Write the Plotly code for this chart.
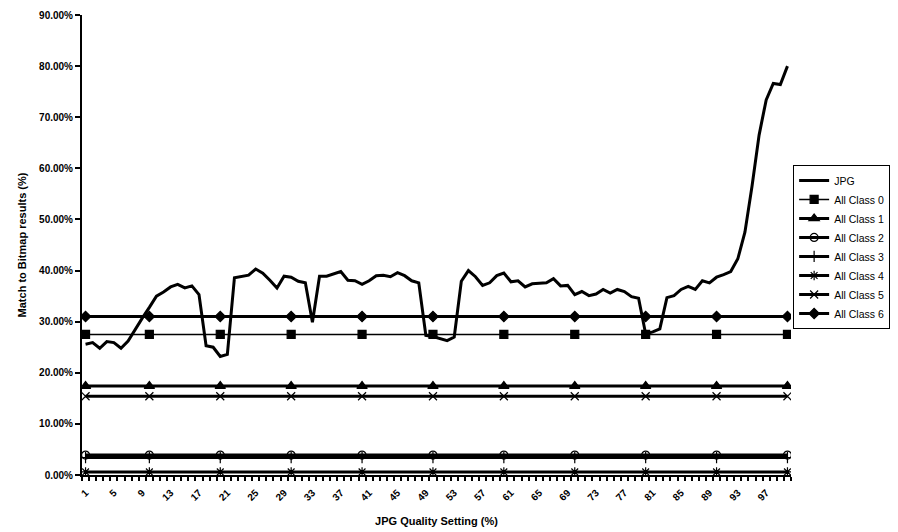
import plotly.graph_objects as go

quality = list(range(1, 101))
jpg = [25.6, 25.9, 24.8, 26.1, 25.9, 24.8, 26.2, 28.5, 30.7, 32.8,
       35.0, 35.8, 36.8, 37.3, 36.6, 37.0, 35.3, 25.3, 25.0, 23.2,
       23.6, 38.6, 38.9, 39.1, 40.3, 39.5, 38.1, 36.6, 38.9, 38.7,
       37.9, 37.6, 29.9, 38.9, 38.9, 39.4, 39.8, 38.1, 38.0, 37.3,
       38.0, 39.0, 39.1, 38.8, 39.6, 39.0, 38.0, 37.6, 27.3, 27.1,
       26.7, 26.3, 27.0, 37.9, 40.0, 38.8, 37.1, 37.6, 39.0, 39.5,
       37.8, 38.0, 36.8, 37.4, 37.5, 37.6, 38.4, 37.0, 37.1, 35.3,
       35.9, 35.1, 35.4, 36.3, 35.6, 36.3, 35.9, 34.9, 34.6, 27.6,
       28.0, 28.6, 34.7, 35.1, 36.3, 36.9, 36.3, 38.0, 37.6, 38.7,
       39.2, 39.8, 42.3, 47.5, 56.5, 66.5, 73.4, 76.6, 76.4, 80.0]

marker_q = [1, 10, 20, 30, 40, 50, 60, 70, 80, 90, 100]
class_names = ["All Class 0", "All Class 1", "All Class 2", "All Class 3",
               "All Class 4", "All Class 5", "All Class 6"]
class_values = [27.5, 17.4, 3.9, 3.4, 0.6, 15.4, 31.0]

xtick_vals = list(range(1, 101, 4))
xtick_text = [str(v) for v in xtick_vals]

styles = [
    dict(symbol="square", size=8, width=1.5),
    dict(symbol="triangle-up", size=9, width=3),
    dict(symbol="circle-open", size=8, width=3),
    dict(symbol="cross-thin-open", size=8, width=3),
    dict(symbol="asterisk-open", size=8, width=3),
    dict(symbol="x-thin-open", size=8, width=3),
    dict(symbol="diamond", size=8, width=3),
]

fig = go.Figure()
fig.add_trace(go.Scatter(x=quality, y=[v / 100 for v in jpg], mode="lines",
                         name="JPG", line=dict(color="black", width=3)))
for name, val, st in zip(class_names, class_values, styles):
    fig.add_trace(go.Scatter(
        x=marker_q, y=[val / 100] * len(marker_q), mode="lines+markers", name=name,
        line=dict(color="black", width=st["width"]),
        marker=dict(symbol=st["symbol"], size=st["size"], color="black",
                    line=dict(color="black", width=1.2))))

font_b = "Liberation Sans, Arial, sans-serif"
fig.update_layout(
    width=890, height=524,
    margin=dict(l=73.5, r=106.5, t=7, b=56.5, autoexpand=False),
    paper_bgcolor="white", plot_bgcolor="white",
    font=dict(family=font_b, color="black", size=11),
    showlegend=True,
    legend=dict(x=1.003, y=0.674, xanchor="left", yanchor="top",
                bordercolor="black", borderwidth=1, bgcolor="white",
                font=dict(size=10.5, family=font_b), itemwidth=30,
                tracegroupgap=0),
    xaxis=dict(range=[0.5, 100.5], tickmode="array", tickvals=xtick_vals,
               ticktext=xtick_text, tickangle=-45, ticks="", showgrid=False,
               showline=True, linecolor="black", linewidth=2, zeroline=False,
               automargin=False, ticklabelstandoff=6,
               tickfont=dict(size=10, family=font_b, weight="bold"),
               minor=dict(tickmode="linear", tick0=0.5, dtick=1, ticks="outside",
                          ticklen=4, tickcolor="black", tickwidth=1.5, showgrid=False),
               title=dict(text="JPG Quality Setting (%)", standoff=15,
                          font=dict(size=11, family=font_b, weight="bold"))),
    yaxis=dict(range=[0, 0.9], dtick=0.1, tickformat=".2%", ticks="outside",
               ticklen=5, tickwidth=2, tickcolor="black", showgrid=False,
               showline=True, linecolor="black", linewidth=2, zeroline=False,
               automargin=False,
               tickfont=dict(size=10, family=font_b, weight="bold"),
               title=dict(text="Match to Bitmap results (%)", standoff=10,
                          font=dict(size=11, family=font_b, weight="bold"))),
)
fig.write_html("out.html")
